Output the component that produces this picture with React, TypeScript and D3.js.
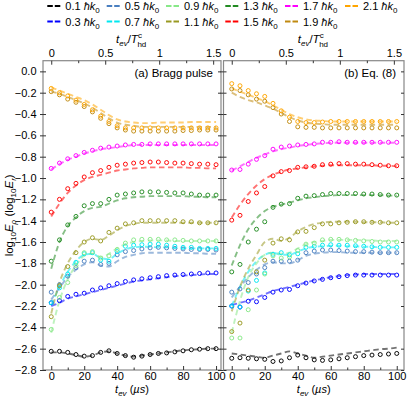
import React, { useRef, useEffect } from "react";
import * as d3 from "d3";

// evolution times (µs)
const times = [0, 5, 10, 15, 20, 25, 30, 35, 40, 45, 50, 55, 60, 65, 70, 75, 80, 85, 90, 95, 100];

// momenta, in units of ħk0
const momenta = ["0.1", "0.3", "0.5", "0.7", "0.9", "1.1", "1.3", "1.5", "1.7", "1.9", "2.1"];

const bottomTicks = [0, 20, 40, 60, 80, 100];
const bottomMinor = [10, 30, 50, 70, 90];
const topTicks = [0, 0.5, 1, 1.5];
const topMinor = [0.25, 0.75, 1.25];
const yTicks = [0, -0.2, -0.4, -0.6, -0.8, -1, -1.2, -1.4, -1.6, -1.8, -2, -2.2, -2.4, -2.6, -2.8];
const tHd = 65.5; // T_hd^c in µs

// (a) Bragg pulse: markers and dashed curves
const braggDots01 = [-2.625, -2.625, -2.635, -2.655, -2.67, -2.665, -2.635, -2.62, -2.645, -2.665, -2.68, -2.67, -2.655, -2.645, -2.64, -2.63, -2.62, -2.61, -2.605, -2.6, -2.6];
const braggLine01 = [-2.635, -2.635, -2.645, -2.66, -2.675, -2.665, -2.635, -2.625, -2.645, -2.665, -2.675, -2.665, -2.655, -2.645, -2.635, -2.625, -2.615, -2.61, -2.605, -2.6, -2.6];
const braggDots03 = [-2.17, -2.15, -2.11, -2.09, -2.08, -2.05, -2.03, -2.01, -1.99, -1.97, -1.955, -1.945, -1.935, -1.925, -1.915, -1.91, -1.905, -1.9, -1.895, -1.89, -1.89];
const braggLine03 = [-2.2, -2.17, -2.13, -2.11, -2.09, -2.07, -2.05, -2.03, -2.01, -1.99, -1.97, -1.96, -1.95, -1.94, -1.93, -1.92, -1.915, -1.91, -1.905, -1.9, -1.9];
const braggDots05 = [-2.07, -2.0, -1.92, -1.84, -1.78, -1.77, -1.81, -1.8, -1.72, -1.69, -1.68, -1.665, -1.655, -1.65, -1.655, -1.66, -1.665, -1.67, -1.67, -1.67, -1.675];
const braggLine05 = [-2.14, -2.03, -1.93, -1.86, -1.81, -1.79, -1.82, -1.83, -1.78, -1.74, -1.72, -1.705, -1.7, -1.7, -1.7, -1.7, -1.7, -1.705, -1.705, -1.71, -1.71];
const braggDots07 = [-2.17, -2.03, -1.9, -1.79, -1.71, -1.7, -1.77, -1.78, -1.69, -1.64, -1.63, -1.625, -1.62, -1.62, -1.63, -1.64, -1.65, -1.65, -1.66, -1.66, -1.66];
const braggLine07 = [-2.19, -2.02, -1.88, -1.78, -1.72, -1.71, -1.75, -1.76, -1.71, -1.67, -1.65, -1.645, -1.645, -1.65, -1.65, -1.655, -1.655, -1.66, -1.66, -1.66, -1.66];
const braggDots09 = [-2.42, -2.12, -1.98, -1.82, -1.7, -1.69, -1.75, -1.73, -1.67, -1.61, -1.58, -1.575, -1.575, -1.575, -1.58, -1.58, -1.585, -1.59, -1.59, -1.59, -1.59];
const braggLine09 = [-2.45, -2.15, -1.95, -1.82, -1.73, -1.71, -1.74, -1.71, -1.66, -1.62, -1.6, -1.59, -1.585, -1.585, -1.585, -1.59, -1.59, -1.59, -1.59, -1.59, -1.59];
const braggDots11 = [-2.3, -2.01, -1.83, -1.7, -1.6, -1.56, -1.59, -1.51, -1.47, -1.43, -1.42, -1.4, -1.4, -1.4, -1.4, -1.4, -1.41, -1.41, -1.42, -1.42, -1.42];
const braggLine11 = [-2.27, -1.98, -1.8, -1.68, -1.6, -1.57, -1.58, -1.54, -1.49, -1.45, -1.43, -1.42, -1.42, -1.42, -1.42, -1.42, -1.42, -1.42, -1.42, -1.42, -1.42];
const braggDots13 = [-1.78, -1.58, -1.44, -1.36, -1.26, -1.24, -1.24, -1.2, -1.16, -1.15, -1.14, -1.13, -1.13, -1.13, -1.135, -1.14, -1.14, -1.15, -1.16, -1.16, -1.16];
const braggLine13 = [-1.85, -1.6, -1.45, -1.37, -1.31, -1.28, -1.27, -1.24, -1.21, -1.19, -1.18, -1.175, -1.17, -1.17, -1.17, -1.17, -1.17, -1.175, -1.175, -1.18, -1.18];
const braggDots15 = [-1.32, -1.2, -1.1, -1.05, -0.99, -0.95, -0.93, -0.9, -0.88, -0.87, -0.86, -0.855, -0.85, -0.85, -0.855, -0.86, -0.86, -0.865, -0.87, -0.87, -0.875];
const braggLine15 = [-1.36, -1.24, -1.14, -1.07, -1.02, -0.99, -0.97, -0.95, -0.93, -0.92, -0.91, -0.905, -0.9, -0.9, -0.9, -0.9, -0.9, -0.905, -0.905, -0.91, -0.91];
const braggDots17 = [-0.91, -0.86, -0.82, -0.79, -0.76, -0.74, -0.72, -0.71, -0.7, -0.69, -0.685, -0.685, -0.68, -0.68, -0.68, -0.68, -0.68, -0.68, -0.68, -0.68, -0.68];
const braggLine17 = [-0.92, -0.87, -0.83, -0.8, -0.77, -0.75, -0.73, -0.72, -0.71, -0.7, -0.69, -0.69, -0.69, -0.69, -0.69, -0.69, -0.69, -0.69, -0.69, -0.69, -0.69];
const braggDots19 = [-0.19, -0.22, -0.26, -0.29, -0.33, -0.38, -0.44, -0.49, -0.53, -0.55, -0.56, -0.56, -0.56, -0.56, -0.56, -0.56, -0.555, -0.555, -0.55, -0.55, -0.55];
const braggLine19 = [-0.19, -0.21, -0.24, -0.27, -0.3, -0.34, -0.39, -0.44, -0.48, -0.5, -0.51, -0.52, -0.52, -0.52, -0.52, -0.52, -0.52, -0.52, -0.52, -0.52, -0.52];
const braggDots21 = [-0.16, -0.2, -0.23, -0.27, -0.31, -0.36, -0.42, -0.47, -0.51, -0.53, -0.53, -0.53, -0.53, -0.53, -0.53, -0.53, -0.53, -0.53, -0.53, -0.53, -0.53];
const braggLine21 = [-0.15, -0.18, -0.21, -0.24, -0.27, -0.31, -0.36, -0.41, -0.45, -0.47, -0.48, -0.485, -0.485, -0.48, -0.48, -0.48, -0.48, -0.475, -0.475, -0.475, -0.475];

// (b) Eq. (8): markers and dashed curves
const eqDots01 = [-2.69, -2.685, -2.69, -2.695, -2.7, -2.72, -2.715, -2.685, -2.66, -2.685, -2.705, -2.71, -2.705, -2.695, -2.685, -2.675, -2.665, -2.66, -2.655, -2.65, -2.645];
const eqLine01 = [-2.645, -2.655, -2.665, -2.675, -2.685, -2.665, -2.645, -2.625, -2.645, -2.665, -2.685, -2.675, -2.665, -2.655, -2.645, -2.635, -2.625, -2.615, -2.605, -2.6, -2.59];
const eqDots03 = [-2.2, -2.21, -2.155, -2.16, -2.12, -2.07, -2.05, -2.045, -2.01, -1.985, -1.965, -1.95, -1.935, -1.925, -1.915, -1.91, -1.91, -1.91, -1.91, -1.91, -1.91];
const eqLine03 = [-2.19, -2.17, -2.15, -2.12, -2.09, -2.06, -2.04, -2.02, -2.0, -1.98, -1.96, -1.945, -1.93, -1.92, -1.91, -1.905, -1.9, -1.9, -1.9, -1.9, -1.9];
const eqDots05 = [-2.07, -2.04, -1.98, -1.9, -1.84, -1.78, -1.78, -1.78, -1.77, -1.7, -1.685, -1.675, -1.675, -1.68, -1.685, -1.69, -1.69, -1.695, -1.7, -1.7, -1.7];
const eqLine05 = [-2.12, -2.02, -1.93, -1.86, -1.81, -1.79, -1.8, -1.8, -1.77, -1.73, -1.71, -1.7, -1.695, -1.695, -1.7, -1.7, -1.7, -1.7, -1.7, -1.7, -1.7];
const eqDots07 = [-2.2, -2.21, -2.06, -1.96, -1.89, -1.715, -1.7, -1.72, -1.71, -1.65, -1.64, -1.63, -1.625, -1.63, -1.63, -1.635, -1.64, -1.645, -1.65, -1.65, -1.65];
const eqLine07 = [-2.2, -2.02, -1.88, -1.78, -1.72, -1.7, -1.72, -1.72, -1.69, -1.66, -1.645, -1.64, -1.635, -1.635, -1.64, -1.64, -1.645, -1.645, -1.65, -1.65, -1.65];
const eqDots09 = [-2.5, -2.5, -2.235, -2.05, -1.9, -1.73, -1.75, -1.74, -1.68, -1.62, -1.61, -1.58, -1.575, -1.575, -1.58, -1.585, -1.59, -1.595, -1.6, -1.6, -1.6];
const eqLine09 = [-2.45, -2.15, -1.93, -1.8, -1.72, -1.7, -1.71, -1.7, -1.66, -1.62, -1.6, -1.59, -1.58, -1.58, -1.58, -1.58, -1.585, -1.585, -1.59, -1.59, -1.59];
const eqDots11 = [-2.44, -2.36, -2.05, -1.88, -1.77, -1.61, -1.57, -1.58, -1.505, -1.5, -1.465, -1.43, -1.43, -1.42, -1.415, -1.41, -1.41, -1.415, -1.415, -1.42, -1.42];
const eqLine11 = [-2.25, -2.02, -1.85, -1.72, -1.6, -1.57, -1.59, -1.56, -1.5, -1.46, -1.43, -1.42, -1.41, -1.41, -1.41, -1.41, -1.415, -1.415, -1.415, -1.42, -1.42];
const eqDots13 = [-1.88, -1.81, -1.6, -1.48, -1.41, -1.275, -1.245, -1.24, -1.19, -1.17, -1.165, -1.155, -1.145, -1.145, -1.145, -1.145, -1.15, -1.15, -1.155, -1.16, -1.16];
const eqLine13 = [-1.82, -1.63, -1.48, -1.38, -1.31, -1.27, -1.25, -1.23, -1.21, -1.19, -1.18, -1.17, -1.165, -1.16, -1.16, -1.16, -1.16, -1.16, -1.16, -1.165, -1.165];
const eqDots15 = [-1.395, -1.35, -1.22, -1.14, -1.08, -0.98, -0.94, -0.93, -0.9, -0.895, -0.89, -0.875, -0.87, -0.865, -0.865, -0.87, -0.87, -0.875, -0.88, -0.885, -0.885];
const eqLine15 = [-1.37, -1.25, -1.15, -1.07, -1.01, -0.97, -0.94, -0.92, -0.91, -0.9, -0.89, -0.885, -0.88, -0.88, -0.88, -0.88, -0.88, -0.88, -0.885, -0.885, -0.89];
const eqDots17 = [-0.925, -0.92, -0.87, -0.825, -0.79, -0.73, -0.71, -0.7, -0.69, -0.685, -0.68, -0.665, -0.665, -0.66, -0.665, -0.665, -0.665, -0.665, -0.665, -0.665, -0.665];
const eqLine17 = [-0.93, -0.89, -0.85, -0.81, -0.78, -0.75, -0.73, -0.715, -0.7, -0.69, -0.68, -0.675, -0.67, -0.67, -0.67, -0.67, -0.67, -0.67, -0.67, -0.67, -0.67];
const eqDots19 = [-0.165, -0.18, -0.22, -0.26, -0.28, -0.34, -0.4, -0.47, -0.52, -0.525, -0.525, -0.53, -0.53, -0.53, -0.53, -0.53, -0.53, -0.53, -0.53, -0.53, -0.53];
const eqLine19 = [-0.2, -0.24, -0.27, -0.29, -0.32, -0.35, -0.39, -0.43, -0.46, -0.48, -0.49, -0.495, -0.5, -0.5, -0.5, -0.5, -0.5, -0.5, -0.5, -0.5, -0.5];
const eqDots21 = [-0.115, -0.135, -0.18, -0.21, -0.235, -0.3, -0.37, -0.43, -0.47, -0.48, -0.48, -0.475, -0.47, -0.47, -0.47, -0.47, -0.47, -0.47, -0.47, -0.47, -0.47];
const eqLine21 = [-0.16, -0.19, -0.22, -0.25, -0.28, -0.32, -0.36, -0.4, -0.43, -0.45, -0.46, -0.465, -0.47, -0.47, -0.47, -0.47, -0.47, -0.47, -0.47, -0.47, -0.47];

const colors = ["#000000", "#0000ff", "#4a7fc0", "#00e8f0", "#88e888", "#999922", "#228b22", "#ff0000", "#ff00ff", "#c08a10", "#ffa500"];

const braggDots = [braggDots01, braggDots03, braggDots05, braggDots07, braggDots09, braggDots11, braggDots13, braggDots15, braggDots17, braggDots19, braggDots21];
const braggLines = [braggLine01, braggLine03, braggLine05, braggLine07, braggLine09, braggLine11, braggLine13, braggLine15, braggLine17, braggLine19, braggLine21];
const eqDots = [eqDots01, eqDots03, eqDots05, eqDots07, eqDots09, eqDots11, eqDots13, eqDots15, eqDots17, eqDots19, eqDots21];
const eqLines = [eqLine01, eqLine03, eqLine05, eqLine07, eqLine09, eqLine11, eqLine13, eqLine15, eqLine17, eqLine19, eqLine21];

const FONT = "'Liberation Sans', Arial, sans-serif";

const App = () => {
  const ref = useRef(null);

  useEffect(() => {
    const width = 407;
    const height = 398;
    const top = 60.7;
    const bottom = 370;

    const svg = d3.select(ref.current).attr("width", width).attr("height", height);
    svg.selectAll("*").remove();

    const y = d3.scaleLinear().domain([-2.8, 0.1]).range([bottom, top]);

    const panels = [
      { x0: 43, x1: 221, xmax: 103, label: "(a) Bragg pulse", dots: braggDots, lines: braggLines, yLabels: true },
      { x0: 223.5, x1: 404, xmax: 104.4, label: "(b) Eq. (8)", dots: eqDots, lines: eqLines, yLabels: false },
    ];

    const styleAxis = (g) => {
      g.attr("font-family", FONT).attr("font-size", 11);
      g.select(".domain").remove();
      g.selectAll("line").attr("stroke", "#333");
      g.selectAll("text").attr("fill", "#000");
    };

    panels.forEach((p) => {
      const x = d3.scaleLinear().domain([-5, p.xmax]).range([p.x0, p.x1]);
      const xt = d3.scaleLinear().domain([-5 / tHd, p.xmax / tHd]).range([p.x0, p.x1]);
      const g = svg.append("g");

      // dashed model curves
      const line = d3
        .line()
        .x((d, i) => x(times[i]))
        .y((d) => y(d))
        .curve(d3.curveMonotoneX);
      p.lines.forEach((vals, k) => {
        g.append("path")
          .attr("d", line(vals))
          .attr("fill", "none")
          .attr("stroke", colors[k])
          .attr("stroke-opacity", 0.55)
          .attr("stroke-width", 1.9)
          .attr("stroke-dasharray", "5.5,3.5");
      });

      // markers
      p.dots.forEach((vals, k) => {
        g.append("g")
          .selectAll("circle")
          .data(vals)
          .join("circle")
          .attr("cx", (d, i) => x(times[i]))
          .attr("cy", (d) => y(d))
          .attr("r", 2)
          .attr("fill", "none")
          .attr("stroke", colors[k])
          .attr("stroke-width", 0.95);
      });

      // frame
      g.append("rect")
        .attr("x", p.x0)
        .attr("y", top)
        .attr("width", p.x1 - p.x0)
        .attr("height", bottom - top)
        .attr("fill", "none")
        .attr("stroke", "#888")
        .attr("stroke-width", 1.2);

      // bottom axis
      g.append("g")
        .attr("transform", `translate(0,${bottom})`)
        .call(d3.axisBottom(x).tickValues(bottomTicks).tickSize(-4).tickPadding(2.5).tickFormat(d3.format("d")))
        .call(styleAxis);
      g.append("g")
        .attr("transform", `translate(0,${bottom})`)
        .call(d3.axisBottom(x).tickValues(bottomMinor).tickSize(-2.5).tickFormat(() => ""))
        .call(styleAxis);

      // top axis (t_ev / T_hd)
      g.append("g")
        .attr("transform", `translate(0,${top})`)
        .call(d3.axisTop(xt).tickValues(topTicks).tickSize(-4).tickPadding(4).tickFormat(d3.format("~g")))
        .call(styleAxis);
      g.append("g")
        .attr("transform", `translate(0,${top})`)
        .call(d3.axisTop(xt).tickValues(topMinor).tickSize(-2.5).tickFormat(() => ""))
        .call(styleAxis);

      // left axis
      g.append("g")
        .attr("transform", `translate(${p.x0},0)`)
        .call(
          d3
            .axisLeft(y)
            .tickValues(yTicks)
            .tickSize(3)
            .tickPadding(3.5)
            .tickFormat(p.yLabels ? d3.format(".1f") : () => "")
        )
        .call(styleAxis);
      g.append("g")
        .attr("transform", `translate(${p.x0},0)`)
        .call(d3.axisLeft(y).tickValues(yTicks).tickSize(-3).tickFormat(() => ""))
        .call(styleAxis);

      // right axis
      g.append("g")
        .attr("transform", `translate(${p.x1},0)`)
        .call(d3.axisRight(y).tickValues(yTicks).tickSize(-3).tickFormat(() => ""))
        .call(styleAxis);

      // panel label
      g.append("text")
        .attr("x", p.x1 - 8)
        .attr("y", 76.5)
        .attr("text-anchor", "end")
        .attr("font-family", FONT)
        .attr("font-size", 11.5)
        .text(p.label);

      const cx = (p.x0 + p.x1) / 2;

      // top title: t_ev / T^c_hd
      const tt = g
        .append("text")
        .attr("x", cx - 16)
        .attr("y", 43)
        .attr("text-anchor", "start")
        .attr("font-family", FONT)
        .attr("font-size", 11.5);
      tt.append("tspan").attr("font-style", "italic").text("t");
      tt.append("tspan").attr("font-style", "italic").attr("font-size", 8).attr("dy", 3).text("ev");
      tt.append("tspan").attr("dy", -3).text("/");
      tt.append("tspan").attr("font-style", "italic").text("T");
      tt.append("tspan").attr("font-size", 8).attr("dy", -5).text("c");
      tt.append("tspan").attr("font-size", 8).attr("dx", -4.5).attr("dy", 9).text("hd");

      // bottom title: t_ev (µs)
      const bt = g
        .append("text")
        .attr("x", cx)
        .attr("y", 393)
        .attr("text-anchor", "middle")
        .attr("font-family", FONT)
        .attr("font-size", 11);
      bt.append("tspan").attr("font-style", "italic").text("t");
      bt.append("tspan").attr("font-style", "italic").attr("font-size", 8).attr("dy", 2.5).text("ev");
      bt.append("tspan").attr("dy", -2.5).text(" (");
      bt.append("tspan").attr("font-style", "italic").text("µs");
      bt.append("tspan").text(")");
    });

    // y label
    const yl = svg
      .append("text")
      .attr("transform", `translate(13,${(top + bottom) / 2}) rotate(-90)`)
      .attr("text-anchor", "middle")
      .attr("font-family", FONT)
      .attr("font-size", 11.5);
    yl.append("tspan").text("log");
    yl.append("tspan").attr("font-size", 8).attr("dy", 3).text("10");
    yl.append("tspan").attr("font-style", "italic").attr("dy", -3).text("E");
    yl.append("tspan").attr("font-style", "italic").attr("font-size", 8).attr("dy", 3).text("ρ");
    yl.append("tspan").attr("dy", -3).text(" (log");
    yl.append("tspan").attr("font-size", 8).attr("dy", 3).text("10");
    yl.append("tspan").attr("font-style", "italic").attr("dy", -3).text("E");
    yl.append("tspan").attr("font-style", "italic").attr("font-size", 8).attr("dy", 3).text("r");
    yl.append("tspan").attr("dy", -3).text(")");

    // legend: two rows, filled column by column
    const legX = [47.3, 106.7, 166, 225.3, 285, 345];
    const legY = [6, 21.5];
    momenta.forEach((m, k) => {
      const col = Math.floor(k / 2);
      const row = k % 2;
      const lg = svg.append("g").attr("transform", `translate(${legX[col]},${legY[row]})`);
      lg.append("line")
        .attr("x1", 0)
        .attr("x2", 13)
        .attr("y1", 0)
        .attr("y2", 0)
        .attr("stroke", colors[k])
        .attr("stroke-width", 1.8)
        .attr("stroke-dasharray", "5.5,2");
      const t = lg
        .append("text")
        .attr("x", 18)
        .attr("y", 4)
        .attr("font-family", FONT)
        .attr("font-size", 11);
      t.append("tspan").text(m + " ");
      t.append("tspan").attr("font-style", "italic").text("ħk");
      t.append("tspan").attr("font-size", 8).attr("dy", 3).text("0");
    });
  }, []);

  return (
    <div style={{ position: "absolute", left: 0, top: 0 }}>
      <svg ref={ref} style={{ display: "block", background: "#fff" }}></svg>
    </div>
  );
};

export default App;
